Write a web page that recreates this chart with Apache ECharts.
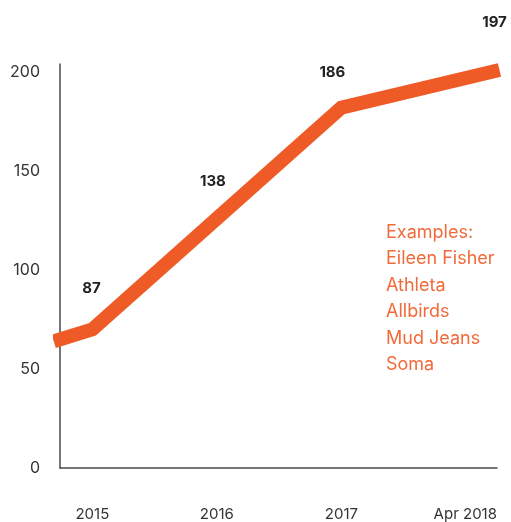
<!DOCTYPE html>
<html>
<head>
<meta charset="utf-8">
<script src="https://cdn.jsdelivr.net/npm/echarts@6/dist/echarts.min.js"></script>
<style>
  html, body { margin: 0; padding: 0; background: #fff; }
  #chart { width: 511px; height: 522px; }
</style>
</head>
<body>
<div id="chart"></div>
<script>
// points of the line (x in years, Apr 2018 ~ 2018.27)
var lineX = [2014.69, 2015, 2016, 2017, 2018.27];
var lineY = [64, 70, 126, 182, 201];
// value labels printed above the line (null = no label)
var valueLabels = [null, 87, 138, 186, 197];
// x axis ticks
var tickValues = [2015, 2016, 2017, 2018.25];
var tickLabels = ['2015', '2016', '2017', 'Apr 2018'];
var yTicks = [0, 50, 100, 150, 200];
var examples = ['Examples:', 'Eileen Fisher', 'Athleta', 'Allbirds', 'Mud Jeans', 'Soma'];

var labelOffsets = [null, [-1, -33], [-4, -29], [-9, -28], [-5, -40]];

var chart = echarts.init(document.getElementById('chart'));

var lineData = lineX.map(function (x, i) {
    var item = { value: [x, lineY[i]] };
    if (valueLabels[i] !== null) {
        item.label = {
            show: true,
            position: 'top',
            distance: 0,
            offset: labelOffsets[i],
            formatter: String(valueLabels[i])
        };
    }
    return item;
});

var option = {
    backgroundColor: '#fff',
    animation: false,
    textStyle: { fontFamily: 'Inter' },
    grid: { left: 60, right: 14, top: 64, bottom: 52 },
    xAxis: {
        type: 'value',
        min: 2014.74,
        max: 2018.25,
        axisLine: { show: true, lineStyle: { color: '#4a4a4a', width: 1.5 } },
        axisTick: { show: false },
        splitLine: { show: false },
        axisLabel: {
            customValues: tickValues,
            margin: 39,
            fontSize: 15,
            color: '#333',
            alignMaxLabel: 'right',
            formatter: function (v) {
                var idx = tickValues.indexOf(v);
                return idx >= 0 ? tickLabels[idx] : '';
            }
        }
    },
    yAxis: {
        type: 'value',
        min: 0,
        max: 204,
        axisLine: { show: true, lineStyle: { color: '#4a4a4a', width: 1.5 } },
        axisTick: { show: false },
        splitLine: { show: false },
        axisLabel: {
            customValues: yTicks,
            margin: 20,
            fontSize: 16,
            color: '#333'
        }
    },
    graphic: [{
        type: 'text',
        left: 386,
        top: 219,
        style: {
            text: examples.join('\n'),
            fill: '#F26A3A',
            font: '18px Inter',
            lineHeight: 26.5
        }
    }],
    series: [{
        type: 'line',
        data: lineData,
        clip: false,
        showSymbol: true,
        symbol: 'circle',
        symbolSize: 0,
        lineStyle: { color: '#EF5B26', width: 14, cap: 'butt', join: 'miter' },
        itemStyle: { color: '#EF5B26' },
        label: {
            fontSize: 15,
            fontWeight: 'bold',
            color: '#222'
        }
    }]
};

chart.setOption(option);
</script>
</body>
</html>
